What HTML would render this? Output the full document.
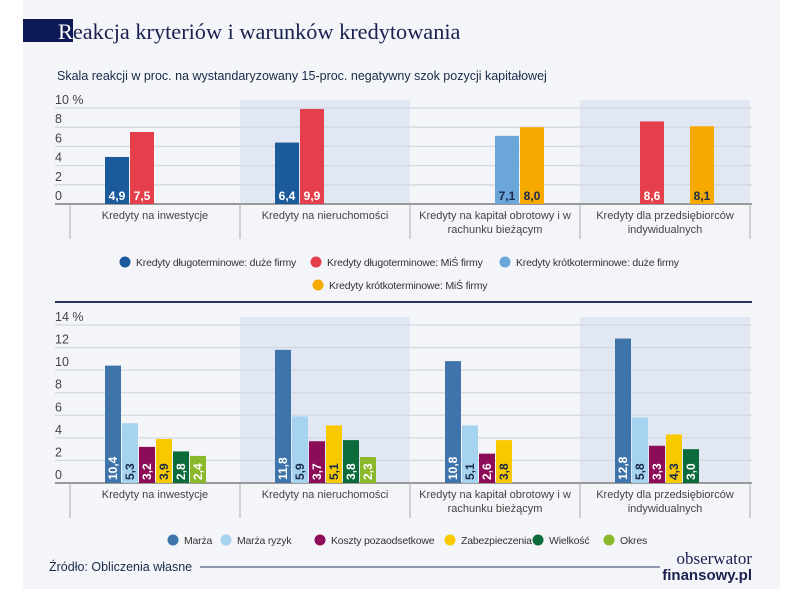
<!DOCTYPE html>
<html><head><meta charset="utf-8"><style>
body{margin:0;background:#fff;width:805px;height:593px;overflow:hidden;font-family:"Liberation Sans",sans-serif;}
svg{position:absolute;left:0;top:0}
</style></head><body>
<svg id="s" width="805" height="593" xmlns="http://www.w3.org/2000/svg">
<rect x="23" y="0" width="757" height="589" fill="#f3f5f8"/>
<rect x="23" y="19" width="50" height="23" fill="#0d1a56"/>
<text x="58" y="39" font-family="Liberation Serif,serif" font-size="22.3" fill="#1a2050"><tspan fill="#fff">R</tspan>eakcja kryteriów i warunków kredytowania</text>
<text x="57" y="80" font-size="12.5" fill="#1a2a4a">Skala reakcji w proc. na wystandaryzowany 15-proc. negatywny szok pozycji kapitałowej</text>
<line x1="55" y1="302" x2="752" y2="302" stroke="#2a3560" stroke-width="2"/>
<text x="49" y="571" font-size="12.5" fill="#1a2a4a">Źródło: Obliczenia własne</text>
<line x1="200" y1="567" x2="660" y2="567" stroke="#2a3560" stroke-width="1"/>
<text x="752" y="564" text-anchor="end" font-family="Liberation Serif,serif" font-size="17" fill="#1a2050">obserwator</text>
<text x="752" y="580" text-anchor="end" font-size="15" font-weight="bold" fill="#1a2050">finansowy.pl</text>
<g id="g"></g>
</svg>
<script>
const categories=[["Kredyty na inwestycje"],["Kredyty na nieruchomości"],["Kredyty na kapitał obrotowy i w","rachunku bieżącym"],["Kredyty dla przedsiębiorców","indywidualnych"]];
const topSeries=["Kredyty długoterminowe: duże firmy","Kredyty długoterminowe: MiŚ firmy","Kredyty krótkoterminowe: duże firmy","Kredyty krótkoterminowe: MiŚ firmy"];
const topValues=[[4.9,7.5,null,null],[6.4,9.9,null,null],[null,null,7.1,8.0],[null,8.6,null,8.1]];
const topTicks=[0,2,4,6,8,10];
const botSeries=["Marża","Marża ryzyk","Koszty pozaodsetkowe","Zabezpieczenia","Wielkość","Okres"];
const botValues=[[10.4,5.3,3.2,3.9,2.8,2.4],[11.8,5.9,3.7,5.1,3.8,2.3],[10.8,5.1,2.6,3.8,null,null],[12.8,5.8,3.3,4.3,3.0,null]];
const botTicks=[0,2,4,6,8,10,12,14];
const topColors=["#1b5b9c","#e43f4b","#6aa6da","#f6aa00"];
const topText=["#fff","#fff","#1a2a4a","#1a2a4a"];
const botColors=["#3f74ab","#a6d3f0","#8c0c57","#f9c900","#0b6b3b","#8cb92b"];
const botText=["#fff","#1a2a4a","#fff","#1a2a4a","#fff","#fff"];
const NS="http://www.w3.org/2000/svg",G=document.getElementById('g');
function mk(t,a,txt){const e=document.createElementNS(NS,t);for(const k in a)e.setAttribute(k,a[k]);if(txt!=null)e.textContent=txt;G.appendChild(e);return e;}
function fmt(v){return v.toFixed(1).replace('.',',');}
function chart(o){
 const y=v=>o.base-(v/o.max)*(o.base-o.top);
 const gx=i=>70+i*170;
 [1,3].forEach(i=>{const r=mk('rect',{x:gx(i),y:o.top-8,width:170,height:o.base-o.top+8,fill:'#e1e8f3'});
  });
 o.ticks.forEach((t,k)=>{const l=mk('line',{x1:55,x2:752,y1:y(t),y2:y(t),stroke:'#d3d8e0','stroke-width':1.3});
  
  const tx=mk('text',{x:55,y:y(t)-4,'font-size':12.5,fill:'#444'},t+(k==o.ticks.length-1?' %':''));
  });
 const ax=mk('line',{x1:55,x2:752,y1:o.base,y2:o.base,stroke:'#999','stroke-width':2});
 
 for(let i=0;i<=4;i++){const l=mk('line',{x1:gx(i),x2:gx(i),y1:o.base,y2:o.base+35,stroke:'#aaa'});
  }
 o.values.forEach((row,i)=>{
  categories[i].forEach((ln,j)=>{const t=mk('text',{x:gx(i)+85,y:o.base+15+j*14,'font-size':11,fill:'#444','text-anchor':'middle'},ln);
   });
  row.forEach((v,s)=>{if(v==null)return;
   const x=gx(i)+35+s*o.step;
   const r=mk('rect',{x:x,y:y(v),width:o.bw,height:o.base-y(v),fill:o.colors[s]});
   
   let t;
   if(o.rot){t=mk('text',{x:0,y:0,'font-size':12,'font-weight':'bold',fill:o.txt[s],transform:`translate(${x+o.bw/2+4},${o.base-3}) rotate(-90)`},fmt(v));}
   else{t=mk('text',{x:x+o.bw/2,y:o.base-4,'font-size':12,'font-weight':'bold',fill:o.txt[s],'text-anchor':'middle'},fmt(v));}
   
  });
 });
}
chart({top:108,base:204,max:10,ticks:topTicks,values:topValues,colors:topColors,txt:topText,step:25,bw:24,rot:false});
chart({top:325,base:483,max:14,ticks:botTicks,values:botValues,colors:botColors,txt:botText,step:17,bw:16,rot:true});
function legend(items,colors,pos){items.forEach((n,i)=>{const p=pos[i];
 const c=mk('circle',{cx:p[0],cy:p[1]-4,r:5.5,fill:colors[i]});
 const t=mk('text',{x:p[0]+11,y:p[1],'font-size':10.5,'letter-spacing':'-0.2',fill:'#333'},n);});}
legend(topSeries,topColors,[[125,266],[316,266],[505,266],[318,289]]);
legend(botSeries,botColors,[[173,544],[226,544],[320,544],[450,544],[538,544],[609,544]]);
</script>
</body></html>
